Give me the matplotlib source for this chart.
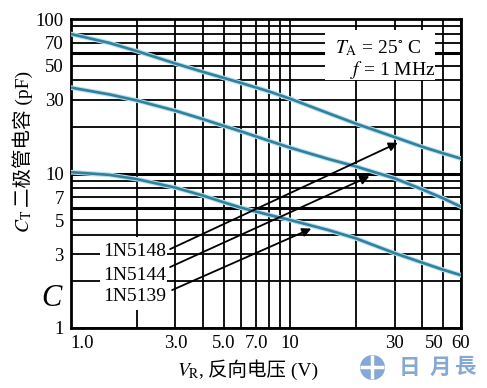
import numpy as np
import matplotlib.pyplot as plt
from matplotlib.patches import Rectangle
from matplotlib.lines import Line2D
from matplotlib.ticker import LogLocator, NullFormatter

plt.rcParams['font.family'] = ['Liberation Serif', 'Noto Sans CJK SC']
plt.rcParams['mathtext.fontset'] = 'stix'

# reverse voltage (V) and diode capacitance (pF)
vr = [1, 1.5, 2, 3, 4, 5, 6, 8, 10, 15, 20, 30, 40, 50, 60]
c_1n5148 = [80, 70, 62, 51.5, 45.5, 41.5, 38.5, 34, 30.5, 24.5, 21, 17.2, 14.9, 13.5, 12.5]
c_1n5144 = [36, 32.5, 29.7, 25.5, 22.5, 20.3, 18.7, 16.3, 14.7, 12.4, 11.1, 9.3, 7.9, 6.9, 6.1]
c_1n5139 = [10.2, 9.8, 9.2, 8.1, 7.2, 6.5, 6.0, 5.4, 5.0, 4.3, 3.8, 3.05, 2.65, 2.38, 2.2]

xticks = [1, 3, 5, 7, 10, 30, 50, 60]
xticklabels = ['1.0', '3.0', '5.0', '7.0', '10', '30', '50', '60']
yticks = [1, 3, 5, 7, 10, 30, 50, 70, 100]
yticklabels = ['1', '3', '5', '7', '10', '30', '50', '70', '100']

names = ['1N5148', '1N5144', '1N5139']
name_y = [3.15, 2.2, 1.59]
arrow_from = [(2.84, 3.24), (2.84, 2.48), (2.9, 1.76)]
arrow_to = [(31, 15.8), (23, 9.6), (12.5, 4.4)]

fig = plt.figure(figsize=(4.87, 3.88), dpi=100)
ax = fig.add_axes([70.7 / 487, 60 / 388, 390 / 487, 309 / 388])
ax.set_xscale('log')
ax.set_yscale('log')
ax.set_xlim(1, 60)
ax.set_ylim(1, 100)

ax.set_xticks(xticks, xticklabels)
ax.set_yticks(yticks, yticklabels)
ax.xaxis.set_minor_locator(LogLocator(base=10, subs=np.arange(2, 10)))
ax.yaxis.set_minor_locator(LogLocator(base=10, subs=np.arange(2, 10)))
ax.xaxis.set_minor_formatter(NullFormatter())
ax.yaxis.set_minor_formatter(NullFormatter())
ax.tick_params(which='both', length=0, labelsize=13.5)
ax.tick_params(axis='x', pad=5)
ax.tick_params(axis='y', pad=5)
xl = ax.get_xticklabels()
xl[0].set_horizontalalignment('left')
xl[6].set_horizontalalignment('right')

ax.set_axisbelow(True)
ax.grid(which='both', color='black', lw=1.3)
for yv in [6, 10, 60]:
    ax.axhline(yv, color='black', lw=2.2, zorder=0.6)
for s in ax.spines.values():
    s.set_linewidth(2)

for c in [c_1n5148, c_1n5144, c_1n5139]:
    ax.plot(vr, c, color='#b3e2f2', lw=3.4, zorder=3, solid_joinstyle='round')
    ax.plot(vr, c, color='#347f9c', lw=1.9, zorder=4, solid_joinstyle='round')

# white patches where the grid is cut out
ax.add_patch(Rectangle((1.36, 1.31), 2.75 - 1.36, 3.88 - 1.31, fc='white', ec='none', zorder=1))
ax.add_patch(Rectangle((14.4, 40.3), 45.8 - 14.4, 85 - 40.3, fc='white', ec='none', zorder=1))

for n, y in zip(names, name_y):
    ax.text(2.72, y, n, ha='right', va='center', fontsize=14, zorder=5)
for a, b in zip(arrow_from, arrow_to):
    ax.annotate('', xy=b, xytext=a,
                arrowprops=dict(arrowstyle='-|>', color='black', lw=1.3,
                                mutation_scale=13, shrinkA=0, shrinkB=0), zorder=5)

ax.text(16, 65, r'$T_\mathrm{A}$ = 25$^{\circ}$ C', ha='left', va='center', fontsize=14, zorder=5)
ax.text(18.8, 46.9, r'$f$ = 1 MHz', ha='left', va='center', fontsize=14, zorder=5)

# axis titles: latin symbol and chinese part drawn as separate pieces
fig.text(29 / 487, 1 - 233 / 388, r'$C_\mathrm{T}$', rotation=90, rotation_mode='anchor',
         ha='left', va='baseline', fontsize=14)
fig.text(29 / 487, 1 - 207 / 388, '二极管电容 (pF)', rotation=90, rotation_mode='anchor',
         ha='left', va='baseline', fontsize=14)
fig.text(205 / 487, 1 - 376 / 388, r'$V_\mathrm{R}$,', ha='right', va='baseline', fontsize=14)
fig.text(208 / 487, 1 - 376 / 388, '反向电压 (V)', ha='left', va='baseline', fontsize=14)
fig.text(51 / 487, 1 - 298 / 388, 'C', ha='center', va='center', fontsize=22, style='italic')

# watermark
wm = '#86a8d4'
fig.add_artist(Line2D([372 / 487], [1 - 367 / 388], marker='o', markersize=17, color=wm,
                      transform=fig.transFigure))
fig.add_artist(Line2D([372 / 487], [1 - 367 / 388], marker='+', markersize=17, mew=2.5,
                      color='white', transform=fig.transFigure))
for ch, xp in zip('日月長', [409, 440, 466]):
    fig.text(xp / 487, 1 - 367 / 388, ch, ha='center', va='center', fontsize=15.5,
             fontweight='bold', color=wm, family=['Noto Sans CJK TC'])

fig.savefig('out.png', dpi=100)
